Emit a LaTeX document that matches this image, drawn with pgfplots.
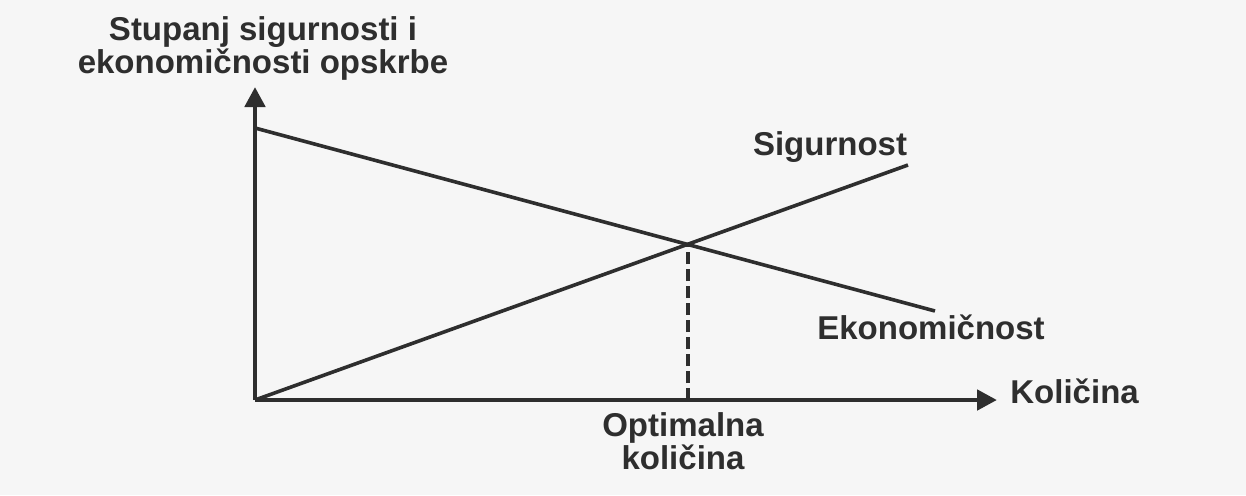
\documentclass[border=0pt]{standalone}
\usepackage{fontspec}
\setmainfont{Liberation Sans}
\usepackage{pgfplots}
\pgfplotsset{compat=1.18}
\usetikzlibrary{arrows.meta}

\definecolor{ink}{HTML}{2E2E2E}
\definecolor{paper}{HTML}{F6F6F6}

\begin{document}
\begin{tikzpicture}[lbl/.style={font=\fontsize{16.5}{16.5}\selectfont\bfseries, text=ink}]
\begin{axis}[
    width=371pt, height=156.5pt,
    scale only axis,
    xmin=0, xmax=742,
    ymin=0, ymax=313,
    axis lines=left,
    axis on top,
    axis line style={ink, line width=2.4pt, -{Triangle[length=10pt,width=10pt]}},
    xtick=\empty, ytick=\empty,
    clip=false,
]
% frame for the page size
\path[fill=paper] (axis cs:-255,-95) rectangle (axis cs:991,400);
% Ekonomicnost
\addplot[ink, line width=1.8pt, no markers] coordinates {(0,272) (680,89)};
% Sigurnost
\addplot[ink, line width=1.8pt, no markers] coordinates {(0,0) (653,235)};
% optimum
\addplot[ink, line width=1.7pt, dash pattern=on 6pt off 2.5pt, no markers] coordinates {(433,0) (433,156)};

\node[lbl, align=center] at (axis cs:8,352) {Stupanj sigurnosti i\\ekonomičnosti opskrbe};
\node[lbl] at (axis cs:575,253) {Sigurnost};
\node[lbl] at (axis cs:676,73) {Ekonomičnost};
\node[lbl, anchor=west, inner sep=0pt] at (axis cs:755,9) {Količina};
\node[lbl, align=center] at (axis cs:428,-41) {Optimalna\\količina};
\end{axis}
\end{tikzpicture}
\end{document}
